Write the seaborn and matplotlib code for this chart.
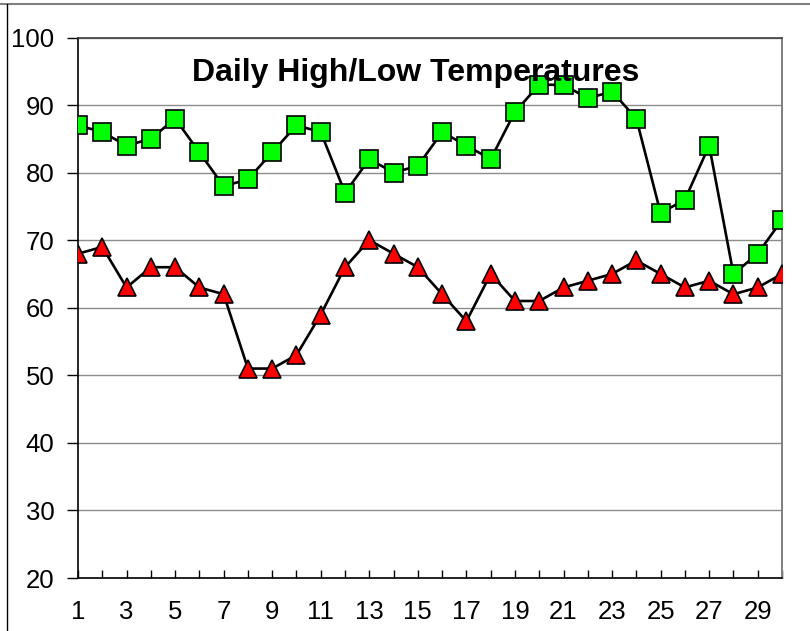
import matplotlib
matplotlib.use("Agg")
import matplotlib.pyplot as plt
from matplotlib.lines import Line2D
import pandas as pd
import seaborn as sns

days = list(range(1, 31))
high_temps = [87, 86, 84, 85, 88, 83, 78, 79, 83, 87, 86, 77, 82, 80, 81,
              86, 84, 82, 89, 93, 93, 91, 92, 88, 74, 76, 84, 65, 68, 73]
low_temps = [68, 69, 63, 66, 66, 63, 62, 51, 51, 53, 59, 66, 70, 68, 66,
             62, 58, 65, 61, 61, 63, 64, 65, 67, 65, 63, 64, 62, 63, 65]
y_ticks = [20, 30, 40, 50, 60, 70, 80, 90, 100]
x_labels = list(range(1, 31, 2))

df = pd.DataFrame({"Day": days, "High": high_temps, "Low": low_temps})

sns.set_theme(style="white")
plt.rcParams["font.family"] = ["Liberation Sans", "DejaVu Sans"]

fig = plt.figure(figsize=(8.1, 6.31), dpi=100)
ax = fig.add_axes([78 / 810, 1 - 578 / 631, 704 / 810, 540.5 / 631])

sns.lineplot(data=df, x="Day", y="High", ax=ax, color="black", linewidth=1.9,
             marker="s", markersize=12.5, markerfacecolor="#00ff00",
             markeredgecolor="black", markeredgewidth=1.2, zorder=3)
sns.lineplot(data=df, x="Day", y="Low", ax=ax, color="black", linewidth=1.9,
             marker="^", markersize=13.5, markerfacecolor="#ff0000",
             markeredgecolor="black", markeredgewidth=1.2, zorder=3)

ax.set_xlim(1, 30)
ax.set_ylim(20, 100)
ax.set_yticks(y_ticks)
ax.set_yticklabels([str(v) for v in y_ticks], fontsize=18.5, color="black")
ax.set_xticks(days)
ax.set_xticklabels([str(d) if d in x_labels else "" for d in days],
                   fontsize=18.5, color="black")
ax.set_xlabel("")
ax.set_ylabel("")

ax.yaxis.grid(True, color="#8c8c8c", linewidth=1.0)
ax.xaxis.grid(False)
ax.set_axisbelow(True)

ax.tick_params(axis="y", direction="out", length=8, width=1, color="black",
               pad=9, left=True)
ax.tick_params(axis="x", direction="in", length=6, width=1, color="black",
               pad=16, bottom=True)

for side in ["left", "bottom"]:
    ax.spines[side].set_color("black")
    ax.spines[side].set_linewidth(1.2)
ax.spines["right"].set_color("#808080")
ax.spines["right"].set_linewidth(1.4)
ax.spines["top"].set_color("#404040")
ax.spines["top"].set_linewidth(1.2)

ax.text(0.479, 0.935, "Daily High/Low Temperatures", transform=ax.transAxes,
        ha="center", va="center", fontsize=23, fontweight="bold", color="black")

# chart area border (top and left edges visible in the reference)
fig.add_artist(Line2D([0, 1], [1 - 4 / 631, 1 - 4 / 631], transform=fig.transFigure,
                      color="#808080", linewidth=1.5))
fig.add_artist(Line2D([7 / 810, 7 / 810], [0, 1 - 4 / 631], transform=fig.transFigure,
                      color="black", linewidth=1.0))

fig.savefig("out.png", dpi=100)
plt.close(fig)
